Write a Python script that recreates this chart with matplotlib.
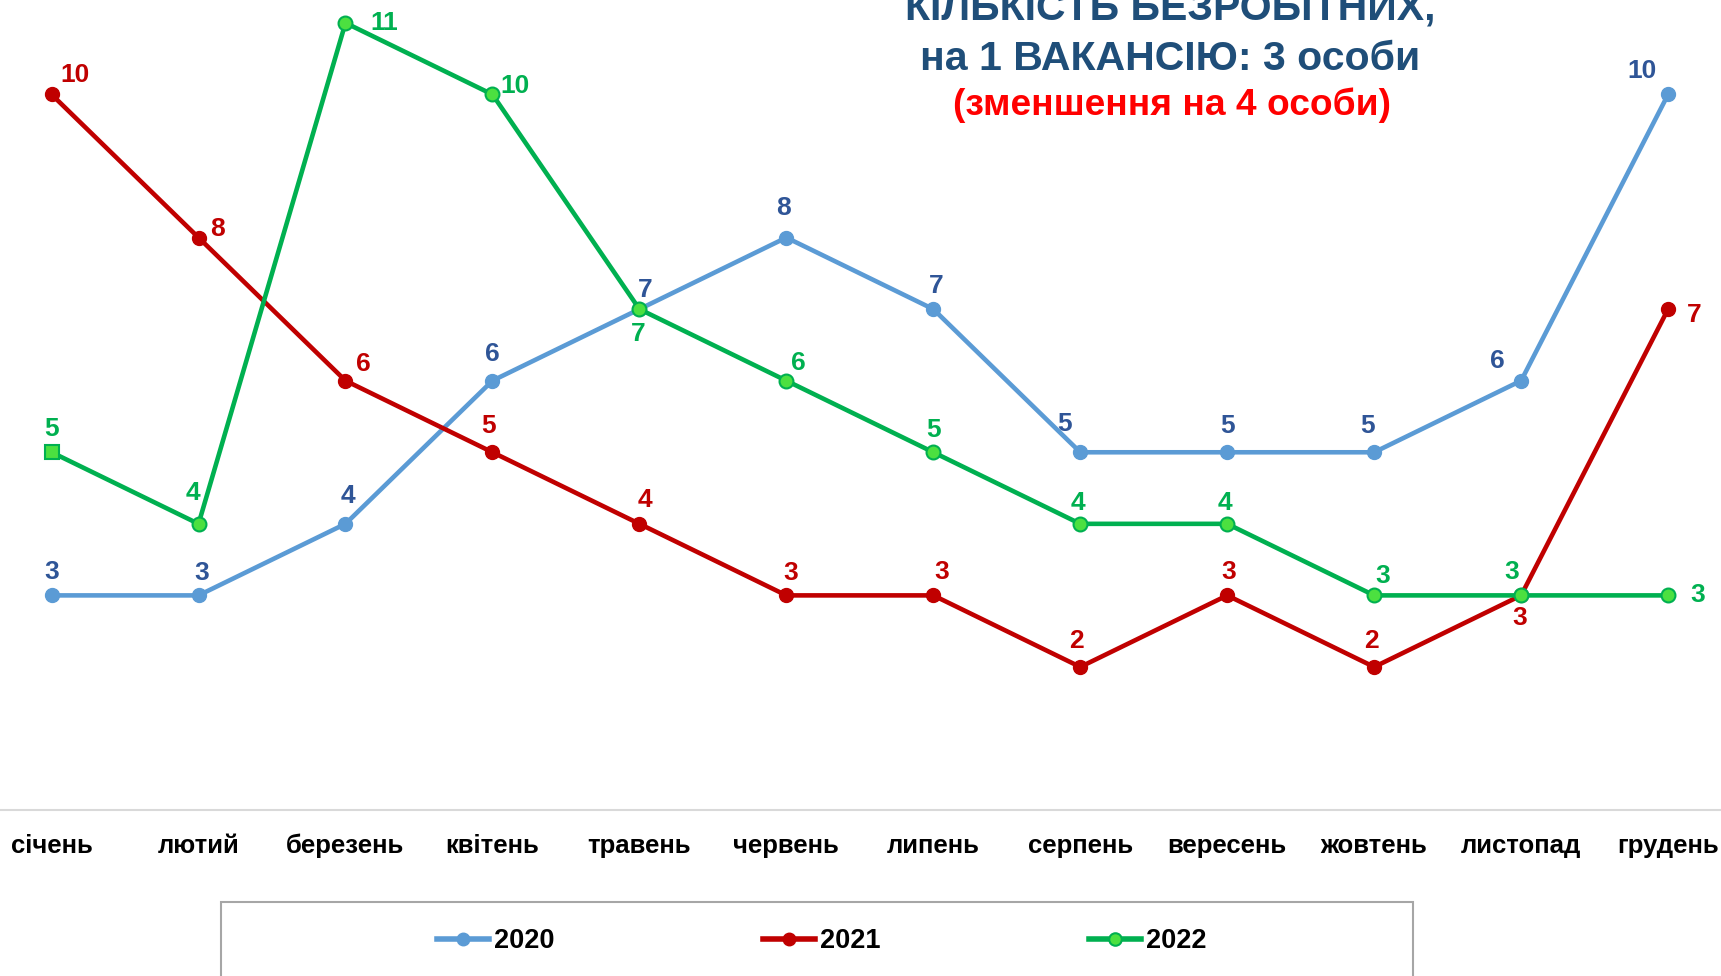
import matplotlib
matplotlib.use("Agg")
import matplotlib.pyplot as plt
from matplotlib.lines import Line2D
from matplotlib.patches import Rectangle

months = ["січень", "лютий", "березень", "квітень", "травень", "червень",
          "липень", "серпень", "вересень", "жовтень", "листопад", "грудень"]
y2020 = [3, 3, 4, 6, 7, 8, 7, 5, 5, 5, 6, 10]
y2021 = [10, 8, 6, 5, 4, 3, 3, 2, 3, 2, 3, 7]
y2022 = [5, 4, 11, 10, 7, 6, 5, 4, 4, 3, 3, 3]
series_names = ["2020", "2021", "2022"]

title_lines = ["КІЛЬКІСТЬ БЕЗРОБІТНИХ,", "на 1 ВАКАНСІЮ: 3 особи"]
subtitle = "(зменшення на 4 особи)"

# label offsets in points
off2020 = [(0, 17), (2, 16), (2, 20), (0, 19), (4, 14), (-2, 21), (2, 17),
           (-11, 20), (0, 19), (-5, 19), (-17, 14), (-19, 17)]
off2021 = [(17, 14), (14, 6), (13, 12), (-3, 19), (4, 17), (3, 16), (6, 17),
           (-3, 19), (1, 17), (-2, 19), (-1, -16), (19, -4)]
off2022 = [(0, 17), (-4, 22), (28, 0), (16, 6), (-1, -18), (9, 13), (0, 16),
           (-2, 15), (-2, 15), (6, 14), (-7, 17), (21, 0)]

plt.rcParams["font.family"] = ["Liberation Sans", "DejaVu Sans"]
plt.rcParams["font.weight"] = "bold"

fig = plt.figure(figsize=(17.21, 9.76), dpi=100)
ax = fig.add_axes([0, 0.170, 1, 0.830])

x = list(range(len(months)))
blue, red, green = "#5B9BD5", "#C00000", "#00B050"
light_green = "#4CE040"

ax.plot(x, y2020, color=blue, lw=3.3, marker="o", ms=10, mfc=blue, mec=blue,
        solid_capstyle="round", zorder=3)
ax.plot(x, y2021, color=red, lw=3.3, marker="o", ms=10, mfc=red, mec=red,
        solid_capstyle="round", zorder=3)
ax.plot(x, y2022, color=green, lw=3.3, marker="o", ms=10, mfc=light_green,
        mec=green, mew=1.5, markevery=list(range(1, 12)), zorder=4)
ax.plot(x[:1], y2022[:1], ls="none", marker="s", ms=10, mfc=light_green,
        mec=green, mew=1.5, zorder=4)

for vals, offs, col in [(y2020, off2020, "#2F5597"), (y2021, off2021, red),
                        (y2022, off2022, green)]:
    for i, v in enumerate(vals):
        ax.annotate(str(v), (i, v), xytext=offs[i], textcoords="offset points",
                    ha="center", va="center", fontsize=19, fontweight="bold",
                    color=col, zorder=5)

ax.set_xlim(-0.351, 11.36)
ax.set_ylim(0, 11.32)
ax.set_xticks(x)
ax.set_xticklabels(months, fontsize=18.5, fontweight="bold", color="black")
ax.tick_params(axis="x", length=0, pad=17)
ax.set_yticks([])
for s in ["top", "left", "right"]:
    ax.spines[s].set_visible(False)
ax.spines["bottom"].set_color("#d9d9d9")
ax.spines["bottom"].set_linewidth(1.5)

# title
fig.text(0.680, 1 - 20 / 976, title_lines[0], ha="center", va="baseline",
         fontsize=29.5, fontweight="bold", color="#1F4E79")
fig.text(0.680, 1 - 70 / 976, title_lines[1], ha="center", va="baseline",
         fontsize=29.5, fontweight="bold", color="#1F4E79")
fig.text(0.681, 1 - 115 / 976, subtitle, ha="center", va="baseline",
         fontsize=26.7, fontweight="bold", color="#FF0000")

# legend
fig.patches.append(Rectangle((0.1284, -0.05), 0.6926, 0.1258,
                             transform=fig.transFigure, fill=False,
                             edgecolor="#a6a6a6", lw=1.5))
handles = [
    Line2D([], [], color=blue, lw=4, marker="o", ms=9, mfc=blue, mec=blue),
    Line2D([], [], color=red, lw=4, marker="o", ms=9, mfc=red, mec=red),
    Line2D([], [], color=green, lw=4, marker="o", ms=9, mfc=light_green,
           mec=green, mew=1.5),
]
leg = fig.legend(handles, series_names, loc="center",
                 bbox_to_anchor=(0.4776, 1 - 941 / 976), ncol=3,
                 frameon=False, handlelength=1.9, handletextpad=0.2,
                 columnspacing=7.7,
                 prop={"size": 19.5, "weight": "bold"})

fig.savefig("out.png", dpi=100)
